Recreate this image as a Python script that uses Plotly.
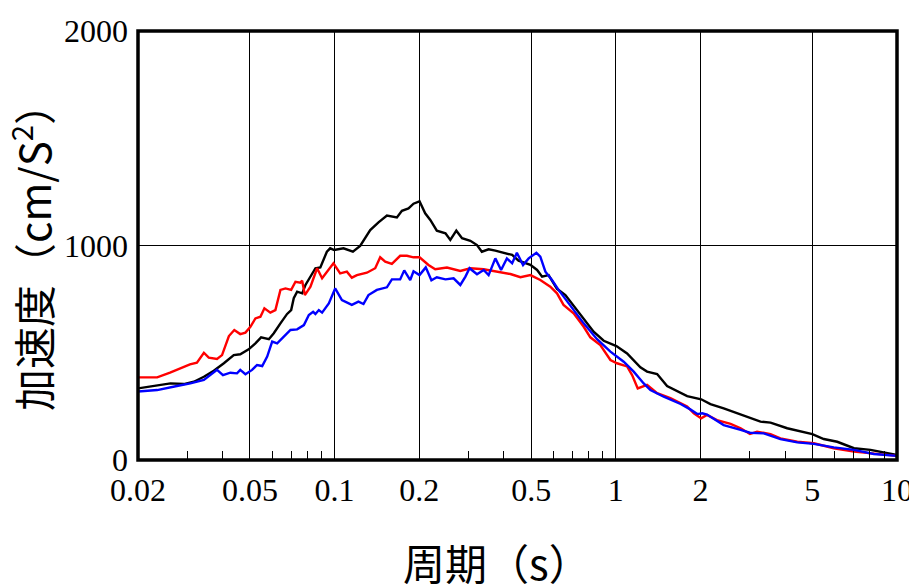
import plotly.graph_objects as go

# ---- data ----
black_T = [0.02, 0.0221, 0.0261, 0.0291, 0.0316, 0.0343, 0.0372, 0.0404, 0.0438, 0.0462, 0.0495, 0.0523, 0.0548, 0.0584, 0.0608, 0.0642, 0.0678, 0.0701, 0.0716, 0.0736, 0.0767, 0.0788, 0.0821, 0.0855, 0.0890, 0.0939, 0.0965, 0.0997, 0.1076, 0.1162, 0.1233, 0.1339, 0.1433, 0.1535, 0.1666, 0.1736, 0.1832, 0.1909, 0.2005, 0.210, 0.219, 0.231, 0.248, 0.258, 0.271, 0.284, 0.304, 0.321, 0.334, 0.353, 0.373, 0.399, 0.428, 0.451, 0.477, 0.497, 0.525, 0.547, 0.577, 0.618, 0.662, 0.708, 0.779, 0.834, 0.906, 1.005, 1.097, 1.223, 1.292, 1.403, 1.522, 1.794, 2.012, 2.17, 2.42, 2.78, 3.27, 3.55, 4.07, 5.00, 5.49, 6.13, 7.03, 8.05, 8.98, 10.0]
black_A = [334, 342, 357, 354, 365, 388, 416, 451, 489, 493, 516, 544, 572, 563, 591, 637, 681, 699, 754, 785, 777, 816, 855, 894, 898, 971, 987, 979, 987, 971, 998, 1072, 1108, 1140, 1131, 1162, 1173, 1195, 1206, 1150, 1119, 1069, 1057, 1026, 1069, 1034, 1022, 1002, 971, 982, 976, 966, 956, 929, 917, 910, 886, 855, 862, 798, 769, 718, 645, 598, 556, 531, 497, 432, 412, 401, 345, 298, 283, 261, 241, 213, 179, 174, 148, 121, 98, 85, 55, 47, 34, 23]

red_T = [0.02, 0.0234, 0.026, 0.0282, 0.0306, 0.0324, 0.0343, 0.0357, 0.0382, 0.0398, 0.0421, 0.0440, 0.0462, 0.0482, 0.0502, 0.0523, 0.0545, 0.0563, 0.0591, 0.0616, 0.0642, 0.0669, 0.0701, 0.0726, 0.0756, 0.0767, 0.0784, 0.0821, 0.0867, 0.0903, 0.0941, 0.0991, 0.1047, 0.1106, 0.1152, 0.1201, 0.1303, 0.1395, 0.1453, 0.1514, 0.1599, 0.1711, 0.1808, 0.1909, 0.2005, 0.2158, 0.228, 0.251, 0.280, 0.304, 0.339, 0.378, 0.422, 0.458, 0.497, 0.539, 0.585, 0.618, 0.652, 0.708, 0.769, 0.812, 0.881, 0.957, 1.010, 1.097, 1.143, 1.197, 1.292, 1.403, 1.564, 1.794, 1.894, 2.012, 2.11, 2.29, 2.56, 2.78, 3.00, 3.18, 3.55, 3.85, 4.42, 5.06, 5.96, 7.03, 8.05, 10.0]
red_A = [385, 385, 407, 427, 446, 454, 500, 477, 471, 489, 578, 606, 587, 594, 621, 660, 668, 707, 687, 699, 793, 800, 793, 831, 827, 836, 769, 808, 894, 847, 878, 917, 870, 878, 850, 862, 873, 894, 945, 925, 914, 952, 952, 945, 945, 909, 889, 897, 881, 894, 889, 878, 867, 852, 862, 839, 808, 777, 723, 684, 621, 572, 536, 466, 451, 436, 396, 334, 350, 312, 288, 250, 218, 194, 210, 186, 168, 148, 121, 132, 121, 101, 85, 78, 55, 39, 31, 19]

blue_T = [0.02, 0.0234, 0.0275, 0.0307, 0.0343, 0.0367, 0.0382, 0.0401, 0.0426, 0.0450, 0.0462, 0.0482, 0.0509, 0.0530, 0.0553, 0.0576, 0.0600, 0.0625, 0.0660, 0.0697, 0.0736, 0.0778, 0.0810, 0.0839, 0.0855, 0.0879, 0.0903, 0.0954, 0.1005, 0.1062, 0.1152, 0.1216, 0.1267, 0.1320, 0.1414, 0.1535, 0.1599, 0.1711, 0.1769, 0.1858, 0.1909, 0.2005, 0.211, 0.221, 0.231, 0.248, 0.265, 0.280, 0.292, 0.302, 0.321, 0.339, 0.353, 0.373, 0.391, 0.410, 0.428, 0.445, 0.468, 0.490, 0.522, 0.539, 0.562, 0.593, 0.626, 0.680, 0.708, 0.769, 0.858, 0.957, 1.067, 1.158, 1.257, 1.328, 1.481, 1.70, 1.84, 1.95, 2.03, 2.11, 2.42, 2.56, 2.78, 3.00, 3.36, 3.85, 4.42, 5.06, 5.96, 7.03, 8.27, 10.0]
blue_A = [319, 326, 345, 357, 373, 401, 420, 396, 407, 404, 420, 400, 420, 443, 438, 482, 552, 544, 575, 606, 609, 629, 676, 691, 681, 699, 687, 730, 800, 746, 723, 738, 727, 769, 793, 805, 842, 842, 884, 839, 880, 862, 898, 838, 852, 842, 847, 816, 855, 894, 866, 886, 862, 940, 886, 940, 917, 966, 909, 940, 966, 948, 878, 839, 793, 730, 699, 637, 563, 505, 458, 412, 357, 326, 295, 261, 236, 214, 218, 212, 163, 155, 140, 127, 124, 97, 82, 75, 59, 47, 28, 19]

x_tickvals = [0.02, 0.05, 0.1, 0.2, 0.5, 1, 2, 5, 10]
x_ticktext = ["0.02", "0.05", "0.1", "0.2", "0.5", "1", "2", "5", "10"]
x_minor = [0.03, 0.04, 0.06, 0.07, 0.08, 0.09, 0.3, 0.4, 0.6, 0.7, 0.8, 0.9, 3, 4, 6, 7, 8, 9]
y_tickvals = [0, 1000, 2000]
y_ticktext = ["0", "1000", "2000"]

x_title = "周期（s）"
y_title = "加速度（cm/S<sup>2</sup>）"

fig = go.Figure()
for T, A, c in [(black_T, black_A, "#000000"), (red_T, red_A, "#ff0000"), (blue_T, blue_A, "#0000ff")]:
    fig.add_trace(go.Scatter(x=T, y=A, mode="lines", line=dict(color=c, width=2.4), showlegend=False, hoverinfo="skip"))

tickfont = dict(family="Liberation Serif", size=32, color="black")
fig.update_layout(
    template="none",
    width=909, height=576,
    margin=dict(l=130, r=20, t=23, b=124),
    paper_bgcolor="white", plot_bgcolor="white",
    xaxis=dict(type="log", range=[-1.69897, 1], tickmode="array", tickvals=x_tickvals, ticktext=x_ticktext,
               showgrid=True, gridcolor="black", gridwidth=1, ticks="", tickfont=tickfont,
               showline=False, zeroline=False, ticklabelstandoff=8, automargin=False,
               minor=dict(tickmode="array", tickvals=x_minor, ticks="inside", ticklen=9, tickcolor="black", tickwidth=1, showgrid=False)),
    yaxis=dict(range=[0, 2000], tickmode="array", tickvals=y_tickvals, ticktext=y_ticktext,
               showgrid=True, gridcolor="black", gridwidth=1, ticks="", tickfont=tickfont,
               showline=False, zeroline=False, ticklabelstandoff=9, automargin=False),
    shapes=[dict(type="rect", xref="paper", yref="paper", x0=0, x1=1, y0=0, y1=1,
                 line=dict(color="black", width=3.5), layer="above")],
    annotations=[
        dict(text=x_title, xref="paper", yref="paper", x=(497 - 138) / 759, y=-(561 - 460) / 429,
             xanchor="center", yanchor="middle", showarrow=False,
             font=dict(family="Noto Sans CJK JP", size=42, color="black")),
        dict(text=y_title, xref="paper", yref="paper", x=-(138 - 31) / 759, y=(460 - 247) / 429,
             xanchor="center", yanchor="middle", showarrow=False, textangle=-90,
             font=dict(family="Noto Sans CJK JP", size=42, color="black")),
    ],
)
fig.write_html("out.html")
